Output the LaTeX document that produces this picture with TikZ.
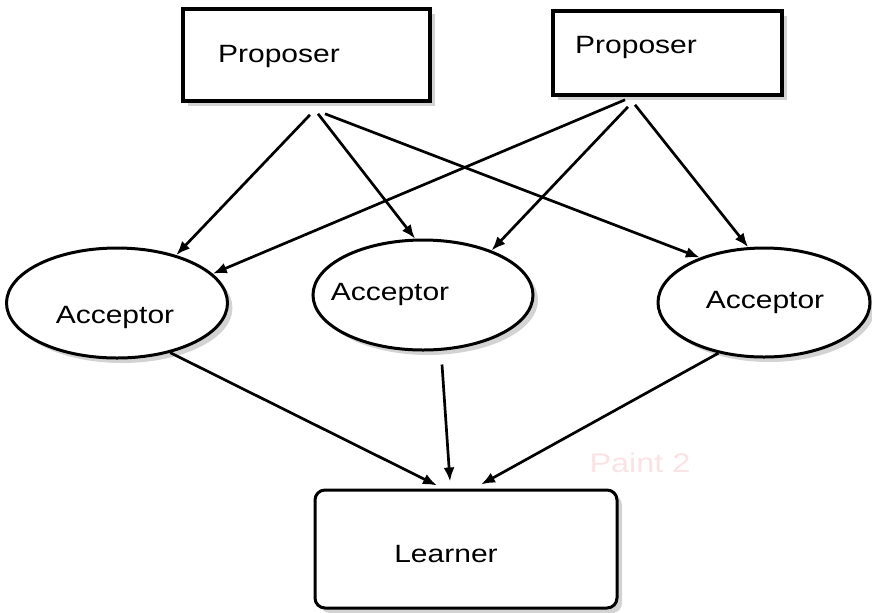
\documentclass[tikz,border=0pt]{standalone}
\usepackage{fontspec}
\setmainfont{Liberation Sans}[FakeStretch=1.2]
\usepackage{tikz}
\usetikzlibrary{arrows.meta, shapes.geometric, shadows}
\definecolor{wmpink}{RGB}{250, 226, 229}

\begin{document}
\begin{tikzpicture}[x=0.5pt, y=-0.5pt,
  rolebox/.style={draw=black, line width=1.8pt, fill=white, inner sep=0pt, drop shadow={opacity=0.35, shadow xshift=2.5pt, shadow yshift=-2.5pt}},
  accnode/.style={ellipse, draw=black, line width=1.5pt, fill=white, inner sep=0pt, drop shadow={opacity=0.35, shadow xshift=2.5pt, shadow yshift=-2.5pt}},
  lbl/.style={anchor=base, font=\fontsize{12.5}{15}\selectfont},
  msg/.style={-{Latex[length=7pt, width=5.5pt]}, line width=1.35pt}]
  \useasboundingbox (0,0) rectangle (872,612);

  % Proposers
  \node[rolebox, minimum width=123.5pt, minimum height=46pt] (p1) at (306.5,55) {};
  \node[rolebox, minimum width=114.5pt, minimum height=42pt] (p2) at (667.5,53) {};
  \node[lbl] (p1txt) at (279,62) {Proposer};
  \node[lbl] (p2txt) at (636,53) {Proposer};

  % Acceptors
  \node[accnode, minimum width=110.5pt, minimum height=55pt] (a1) at (117,303) {};
  \node[accnode, minimum width=110pt, minimum height=55pt] (a2) at (423,295) {};
  \node[accnode, minimum width=106pt, minimum height=54.5pt] (a3) at (764,302.5) {};
  \node[lbl] (a1txt) at (115,323) {Acceptor};
  \node[lbl] (a2txt) at (390,300) {Acceptor};
  \node[lbl] (a3txt) at (765,308) {Acceptor};

  % Learner
  \node[rolebox, rounded corners=5pt, line width=1.5pt, minimum width=151pt, minimum height=59pt] (lrn) at (466,549) {};
  \node[lbl] (lrntxt) at (446,562) {Learner};

  % watermark
  \node[lbl, text=wmpink, font=\fontsize{13.5}{16}\selectfont] (wm) at (640,472) {Paint 2};

  % Proposer 1 -> acceptors
  \draw[msg] ([xshift=1.75pt, yshift=-6pt]p1.south) -- (a1.39);
  \draw[msg] ([xshift=5.75pt, yshift=-5.5pt]p1.south) -- (a2.98);
  \draw[msg] ([xshift=9.25pt, yshift=-5.5pt]p1.south) -- (a3.145);

  % Proposer 2 -> acceptors
  \draw[msg] ([xshift=-21.25pt, yshift=-1.5pt]p2.south) -- (a1.17);
  \draw[msg] ([xshift=-19.75pt, yshift=-5pt]p2.south) -- (a2.33);
  \draw[msg] ([xshift=-16.25pt, yshift=-4pt]p2.south) -- (a3.106);

  % Acceptors -> learner
  \draw[msg] (a1.-43) -- ([xshift=-14.5pt, yshift=1.5pt]lrn.north);
  \draw[msg] ([xshift=9.5pt, yshift=-6.5pt]a2.south) -- ([xshift=-8pt, yshift=3.5pt]lrn.north);
  \draw[msg] (a3.-132) -- ([xshift=7.5pt, yshift=2pt]lrn.north);
\end{tikzpicture}
\end{document}
